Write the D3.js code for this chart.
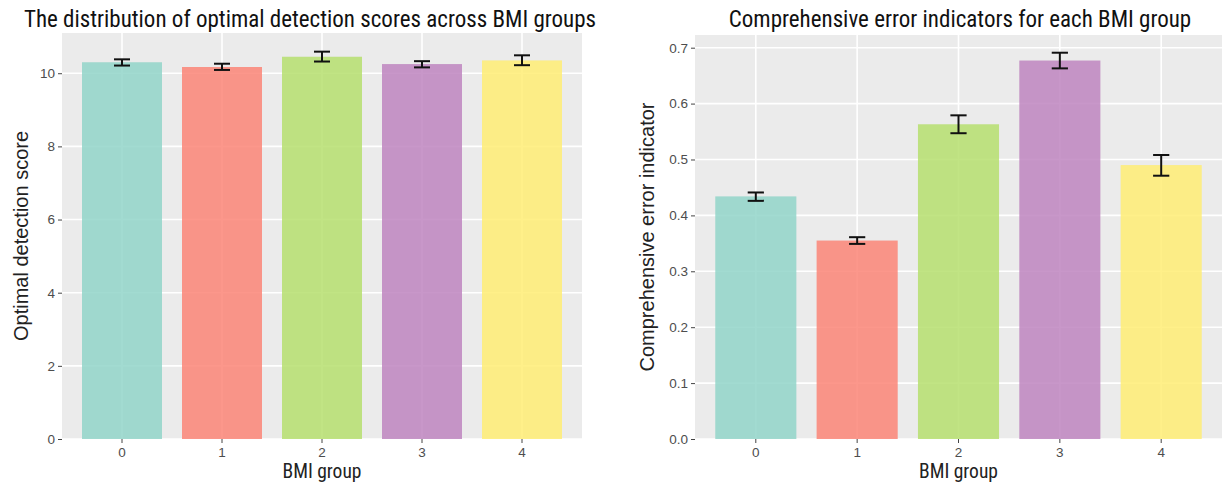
<!DOCTYPE html>
<html>
<head>
<meta charset="utf-8">
<script src="https://cdn.jsdelivr.net/npm/d3@7"></script>
<style>
  body { margin: 0; background: #fff; }
  svg { display: block; }
  .tick text { font-family: "Liberation Sans", Arial, sans-serif; }
</style>
</head>
<body>
<svg id="chart" width="1223" height="487"></svg>
<script>
// DATA

const groups = ['0', '1', '2', '3', '4']
const colors = ['#8DD3C7', '#FB8072', '#B3DE69', '#BC80BD', '#FFED6F']

// left panel: optimal detection score
const scoreMean = [10.30, 10.17, 10.45, 10.25, 10.35]
const scoreLow = [10.21, 10.09, 10.32, 10.16, 10.22]
const scoreHigh = [10.38, 10.26, 10.59, 10.33, 10.49]
const scoreTicks = [0, 2, 4, 6, 8, 10]

// right panel: comprehensive error indicator
const errMean = [0.434, 0.355, 0.563, 0.677, 0.490]
const errLow = [0.426, 0.349, 0.547, 0.663, 0.471]
const errHigh = [0.441, 0.361, 0.579, 0.691, 0.508]
const errTicks = [0, 0.1, 0.2, 0.3, 0.4, 0.5, 0.6, 0.7]

const condensed = '"Roboto Condensed", "Liberation Sans Narrow", "DejaVu Sans Condensed", sans-serif'

const svg = d3.select('#chart')

function panel(opts) {
    const { left, right, top, bottom, yMax, mean, low, high, ticks, fmt,
        title, titleX, yTitle, yTitleX } = opts

    const x = d3.scaleBand()
        .domain(groups)
        .range([left, right])
        .paddingInner(0.2)
        .paddingOuter(0.2)

    const y = d3.scaleLinear()
        .domain([0, yMax])
        .range([bottom, top])

    const g = svg.append('g')

    // gray panel
    g.append('rect')
        .attr('x', left).attr('y', top)
        .attr('width', right - left).attr('height', bottom - top)
        .attr('fill', '#EBEBEB')

    // grid lines
    g.selectAll('.hgrid')
        .data(ticks)
        .join('line')
        .attr('x1', left).attr('x2', right)
        .attr('y1', d => y(d)).attr('y2', d => y(d))
        .attr('stroke', '#fff').attr('stroke-width', 1.6)

    g.selectAll('.vgrid')
        .data(groups)
        .join('line')
        .attr('x1', d => x(d) + x.bandwidth() / 2)
        .attr('x2', d => x(d) + x.bandwidth() / 2)
        .attr('y1', top).attr('y2', bottom)
        .attr('stroke', '#fff').attr('stroke-width', 1.6)

    // bars
    g.selectAll('.bar')
        .data(groups)
        .join('rect')
        .attr('x', d => x(d))
        .attr('width', x.bandwidth())
        .attr('y', (d, i) => y(mean[i]))
        .attr('height', (d, i) => y(0) - y(mean[i]))
        .attr('fill', (d, i) => colors[i])
        .attr('opacity', 0.82)

    // error bars
    const cap = x.bandwidth() * 0.1
    const eb = g.selectAll('.eb')
        .data(groups)
        .join('g')
        .attr('stroke', '#111')
        .attr('stroke-width', 2)

    eb.append('line')
        .attr('x1', d => x(d) + x.bandwidth() / 2)
        .attr('x2', d => x(d) + x.bandwidth() / 2)
        .attr('y1', (d, i) => y(low[i]))
        .attr('y2', (d, i) => y(high[i]))
    eb.append('line')
        .attr('x1', d => x(d) + x.bandwidth() / 2 - cap)
        .attr('x2', d => x(d) + x.bandwidth() / 2 + cap)
        .attr('y1', (d, i) => y(low[i]))
        .attr('y2', (d, i) => y(low[i]))
    eb.append('line')
        .attr('x1', d => x(d) + x.bandwidth() / 2 - cap)
        .attr('x2', d => x(d) + x.bandwidth() / 2 + cap)
        .attr('y1', (d, i) => y(high[i]))
        .attr('y2', (d, i) => y(high[i]))

    // axes
    const yAxis = g.append('g')
        .attr('transform', `translate(${left},0)`)
        .call(d3.axisLeft(y).tickValues(ticks).tickFormat(fmt).tickSize(4).tickPadding(3))
    const xAxis = g.append('g')
        .attr('transform', `translate(0,${bottom})`)
        .call(d3.axisBottom(x).tickSize(4).tickPadding(4))

    for (const ax of [yAxis, xAxis]) {
        ax.select('.domain').remove()
        ax.selectAll('.tick line').attr('stroke', '#444')
        ax.selectAll('.tick text').attr('fill', '#4D4D4D').attr('font-size', 13.5)
    }

    // titles
    g.append('text')
        .attr('x', titleX).attr('y', 27)
        .attr('text-anchor', 'middle')
        .attr('font-family', condensed)
        .attr('font-size', 23)
        .attr('fill', '#111')
        .text(title)

    g.append('text')
        .attr('x', (left + right) / 2).attr('y', 478)
        .attr('text-anchor', 'middle')
        .attr('font-family', condensed)
        .attr('font-size', 19.5)
        .attr('fill', '#222')
        .text('BMI group')

    g.append('text')
        .attr('transform', `translate(${yTitleX},${(top + bottom) / 2}) rotate(-90)`)
        .attr('text-anchor', 'middle')
        .attr('font-family', '"Liberation Sans", Arial, sans-serif')
        .attr('font-size', 20)
        .attr('fill', '#222')
        .text(yTitle)
}

panel({
    left: 62, right: 582, top: 33, bottom: 439, yMax: 11.1,
    mean: scoreMean, low: scoreLow, high: scoreHigh,
    ticks: scoreTicks, fmt: d3.format('d'),
    title: 'The distribution of optimal detection scores across BMI groups', titleX: 310,
    yTitle: 'Optimal detection score', yTitleX: 28
})

panel({
    left: 695, right: 1222, top: 35, bottom: 439, yMax: 0.7227,
    mean: errMean, low: errLow, high: errHigh,
    ticks: errTicks, fmt: d3.format('.1f'),
    title: 'Comprehensive error indicators for each BMI group', titleX: 960,
    yTitle: 'Comprehensive error indicator', yTitleX: 654
})
</script>
</body>
</html>
